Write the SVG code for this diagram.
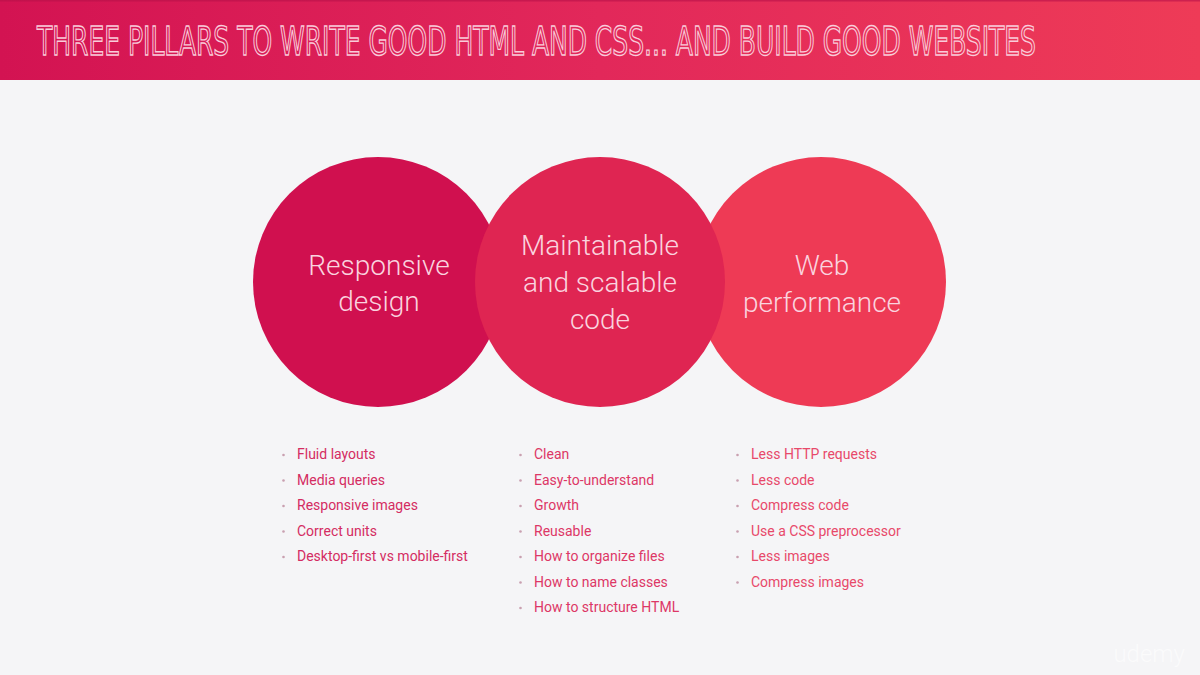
<svg xmlns="http://www.w3.org/2000/svg" width="1200" height="675" viewBox="0 0 1200 675">
  <defs>
    <linearGradient id="hdr" x1="0" y1="0" x2="1" y2="0">
      <stop offset="0" stop-color="#D31352"/>
      <stop offset="0.5" stop-color="#E2285A"/>
      <stop offset="1" stop-color="#EE3B57"/>
    </linearGradient>
    <style>
      .title { font-family: "DejaVu Sans Condensed", "Liberation Sans Narrow", "Liberation Sans", sans-serif; font-weight: normal; font-size: 39px; fill: none; stroke: #F9CCDA; stroke-width: 1.3px; }
      .big { font-family: Roboto, "Noto Sans", sans-serif; font-weight: 300; font-size: 28px; fill: #FAD3DF; text-anchor: middle; }
      .item { font-family: Roboto, "Noto Sans", sans-serif; font-weight: 400; font-size: 14px; }
      .dot { fill: #C9A0B0; }
      .l1 { fill: #D42C62; }
      .l2 { fill: #DD3766; }
      .l3 { fill: #E8496A; }
    </style>
  </defs>
  <rect x="0" y="0" width="1200" height="675" fill="#F5F5F7"/>
  <g id="header">
    <rect x="0" y="0" width="1200" height="80" fill="url(#hdr)"/>
    <rect x="0" y="0" width="1200" height="1.5" fill="#B8104A" opacity="0.6"/>
    <text class="title" x="37" y="55" textLength="999" lengthAdjust="spacingAndGlyphs">THREE PILLARS TO WRITE GOOD HTML AND CSS... AND BUILD GOOD WEBSITES</text>
  </g>
  <g id="connectors"/>
  <g id="node-responsive">
    <circle cx="378" cy="282" r="125" fill="#D0104F"/>
    <text class="big" x="379" y="275">Responsive</text>
    <text class="big" x="379" y="311">design</text>
  </g>
  <g id="node-performance">
    <circle cx="821" cy="282" r="125" fill="#EE3A55"/>
    <text class="big" x="822" y="275">Web</text>
    <text class="big" x="822" y="312">performance</text>
  </g>
  <g id="node-maintainable">
    <circle cx="600" cy="282" r="125" fill="#DF2552"/>
    <text class="big" x="600" y="255">Maintainable</text>
    <text class="big" x="600" y="292">and scalable</text>
    <text class="big" x="600" y="329">code</text>
  </g>
  <g id="list-responsive" class="item l1">
    <circle class="dot" cx="283.5" cy="455" r="1.3"/>
    <circle class="dot" cx="283.5" cy="480.5" r="1.3"/>
    <circle class="dot" cx="283.5" cy="506" r="1.3"/>
    <circle class="dot" cx="283.5" cy="531.5" r="1.3"/>
    <circle class="dot" cx="283.5" cy="557" r="1.3"/>
    <text x="297" y="459">Fluid layouts</text>
    <text x="297" y="484.5">Media queries</text>
    <text x="297" y="510">Responsive images</text>
    <text x="297" y="535.5">Correct units</text>
    <text x="297" y="561">Desktop-first vs mobile-first</text>
  </g>
  <g id="list-maintainable" class="item l2">
    <circle class="dot" cx="520.5" cy="455" r="1.3"/>
    <circle class="dot" cx="520.5" cy="480.5" r="1.3"/>
    <circle class="dot" cx="520.5" cy="506" r="1.3"/>
    <circle class="dot" cx="520.5" cy="531.5" r="1.3"/>
    <circle class="dot" cx="520.5" cy="557" r="1.3"/>
    <circle class="dot" cx="520.5" cy="582.5" r="1.3"/>
    <circle class="dot" cx="520.5" cy="608" r="1.3"/>
    <text x="534" y="459">Clean</text>
    <text x="534" y="484.5">Easy-to-understand</text>
    <text x="534" y="510">Growth</text>
    <text x="534" y="535.5">Reusable</text>
    <text x="534" y="561">How to organize files</text>
    <text x="534" y="586.5">How to name classes</text>
    <text x="534" y="612">How to structure HTML</text>
  </g>
  <g id="list-performance" class="item l3">
    <circle class="dot" cx="737.5" cy="455" r="1.3"/>
    <circle class="dot" cx="737.5" cy="480.5" r="1.3"/>
    <circle class="dot" cx="737.5" cy="506" r="1.3"/>
    <circle class="dot" cx="737.5" cy="531.5" r="1.3"/>
    <circle class="dot" cx="737.5" cy="557" r="1.3"/>
    <circle class="dot" cx="737.5" cy="582.5" r="1.3"/>
    <text x="751" y="459">Less HTTP requests</text>
    <text x="751" y="484.5">Less code</text>
    <text x="751" y="510">Compress code</text>
    <text x="751" y="535.5">Use a CSS preprocessor</text>
    <text x="751" y="561">Less images</text>
    <text x="751" y="586.5">Compress images</text>
  </g>
  <g id="watermark">
    <text x="1185" y="662" text-anchor="end" font-family="Roboto, 'Noto Sans', sans-serif" font-weight="300" font-size="24" fill="#FFFFFF" opacity="0.6">udemy</text>
  </g>
</svg>
